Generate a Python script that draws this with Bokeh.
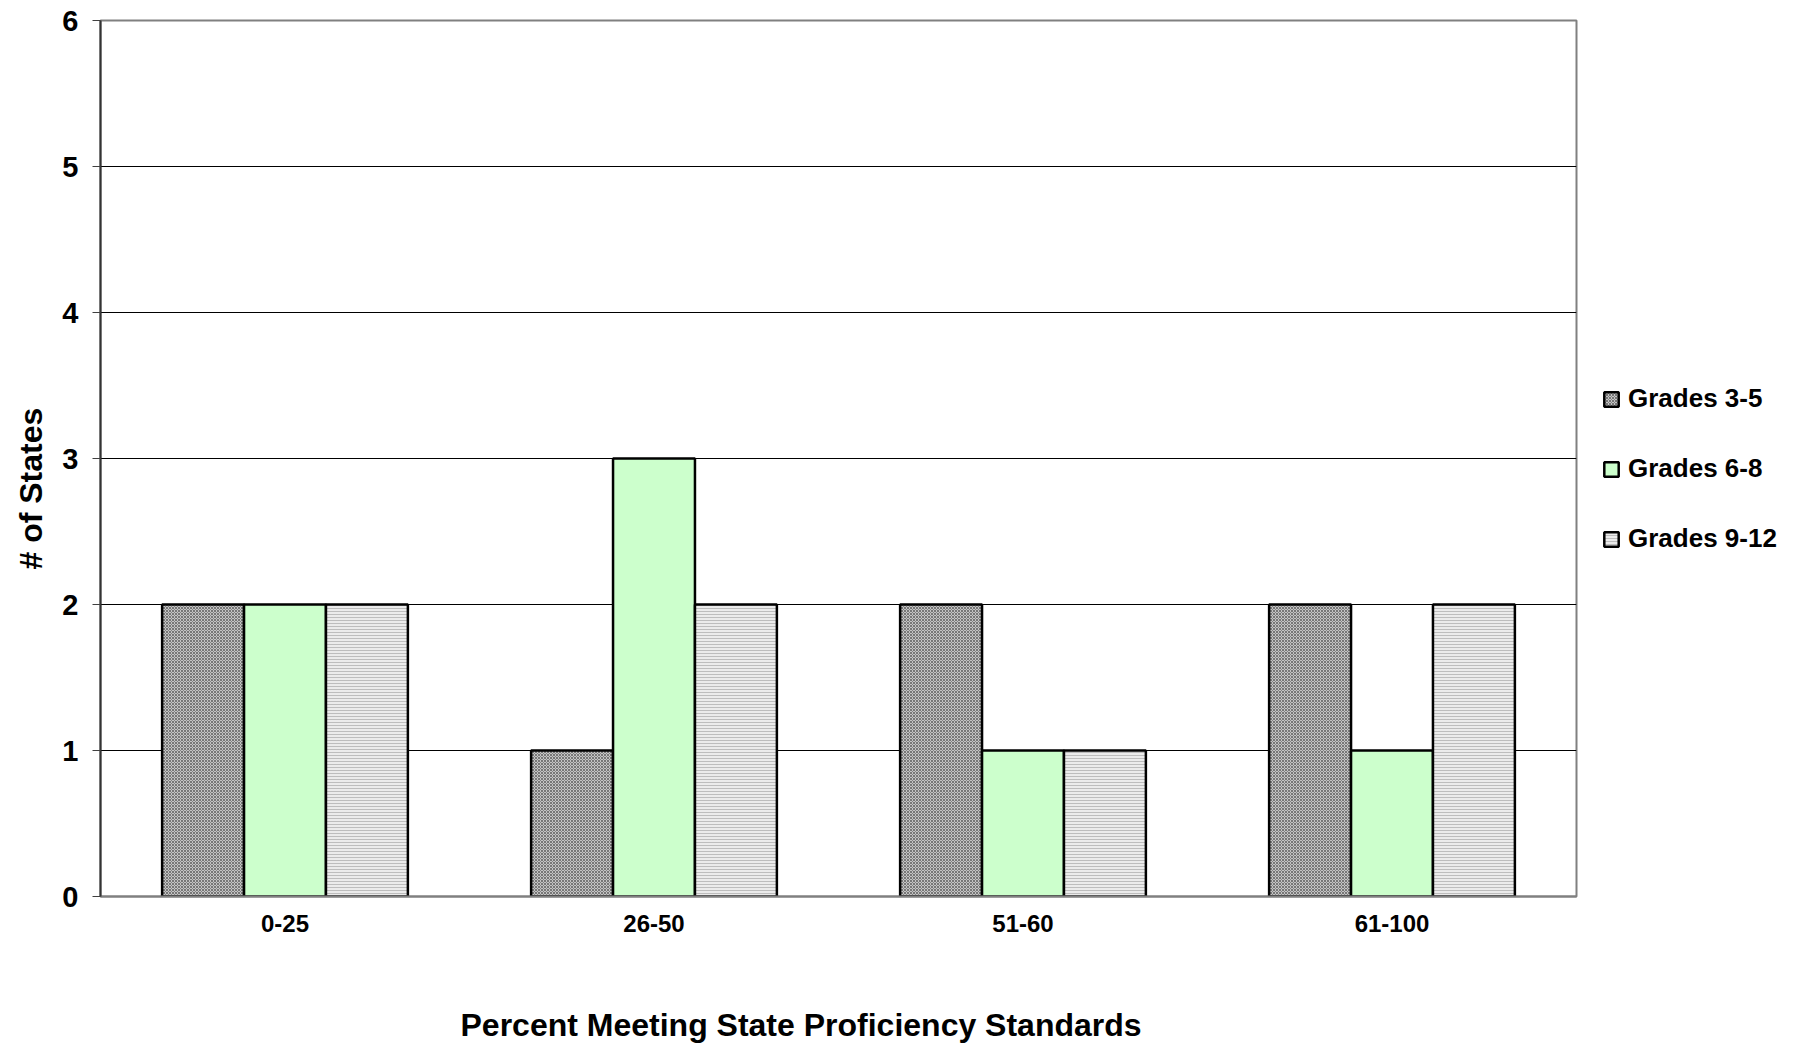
from bokeh.plotting import figure
from bokeh.models import FactorRange, Legend, LegendItem, Title, ColumnDataSource
from bokeh.transform import dodge
from bokeh.embed import file_html
from bokeh.resources import INLINE

categories = ["0-25", "26-50", "51-60", "61-100"]
grades_3_5 = [2, 1, 2, 2]
grades_6_8 = [2, 3, 1, 1]
grades_9_12 = [2, 2, 1, 2]
series_names = ["Grades 3-5", "Grades 6-8", "Grades 9-12"]
y_ticks = [0, 1, 2, 3, 4, 5, 6]

FONT = "Liberation Sans"

source = ColumnDataSource(dict(cat=categories, g35=grades_3_5, g68=grades_6_8, g912=grades_9_12))

p = figure(
    x_range=FactorRange(*categories, range_padding=0),
    y_range=(0, 6),
    frame_width=1476, frame_height=876,
    min_border_left=100, min_border_top=20, min_border_right=206, min_border_bottom=155,
    output_backend="svg", toolbar_location=None,
    background_fill_color="white", border_fill_color="white",
)

bw = 0.222
r1 = p.vbar(x=dodge("cat", -bw, range=p.x_range), top="g35", width=bw, source=source,
            fill_color="#c4c4c4", hatch_pattern="diagonal_cross", hatch_color="#777777",
            hatch_scale=3, hatch_weight=1, line_color="black", line_width=2.5)
r2 = p.vbar(x=dodge("cat", 0, range=p.x_range), top="g68", width=bw, source=source,
            fill_color="#ccffcc", line_color="black", line_width=2.5)
r3 = p.vbar(x=dodge("cat", bw, range=p.x_range), top="g912", width=bw, source=source,
            fill_color="#ebebeb", hatch_pattern="horizontal_line", hatch_color="#bdbdbd",
            hatch_scale=3, hatch_weight=1, line_color="black", line_width=2.5)

# grid & outline
p.xgrid.grid_line_color = None
p.ygrid.grid_line_color = "black"
p.ygrid.grid_line_width = 1
p.outline_line_color = "#808080"
p.outline_line_width = 2

# y axis
p.yaxis.ticker = y_ticks
p.yaxis.major_label_text_font = FONT
p.yaxis.major_label_text_font_size = "29px"
p.yaxis.major_label_text_font_style = "bold"
p.yaxis.major_label_text_color = "black"
p.yaxis.major_tick_out = 8
p.yaxis.major_tick_in = 0
p.yaxis.minor_tick_out = 0
p.yaxis.minor_tick_in = 0
p.yaxis.major_tick_line_color = "#404040"
p.yaxis.axis_line_color = "#333333"
p.yaxis.axis_line_width = 2
p.yaxis.major_label_standoff = 14

# x axis
p.xaxis.major_label_text_font = FONT
p.xaxis.major_label_text_font_size = "24px"
p.xaxis.major_label_text_font_style = "bold"
p.xaxis.major_label_text_color = "black"
p.xaxis.major_tick_out = 0
p.xaxis.major_tick_in = 0
p.xaxis.axis_line_color = "#808080"
p.xaxis.axis_line_width = 2
p.xaxis.major_label_standoff = 18

# axis titles (placed as side titles so they can sit off-centre like the reference)
p.add_layout(Title(text="# of States", align="left", offset=327, standoff=21,
                   text_font=FONT, text_font_size="32px", text_font_style="bold",
                   text_color="black"), "left")
p.add_layout(Title(text="Percent Meeting State Proficiency Standards", align="left",
                   offset=360, standoff=140,
                   text_font=FONT, text_font_size="32px", text_font_style="bold",
                   text_color="black"), "below")

legend = Legend(
    items=[LegendItem(label=series_names[0], renderers=[r1]),
           LegendItem(label=series_names[1], renderers=[r2]),
           LegendItem(label=series_names[2], renderers=[r3])],
    location=(26, 342),
    glyph_width=18, glyph_height=18, label_height=30, label_standoff=8,
    spacing=39, padding=0, margin=0,
    label_text_font=FONT, label_text_font_size="26px", label_text_font_style="bold",
    label_text_color="black",
    border_line_alpha=0, background_fill_alpha=0,
)
p.add_layout(legend, "right")

open("out.html", "w").write(file_html(p, INLINE))
